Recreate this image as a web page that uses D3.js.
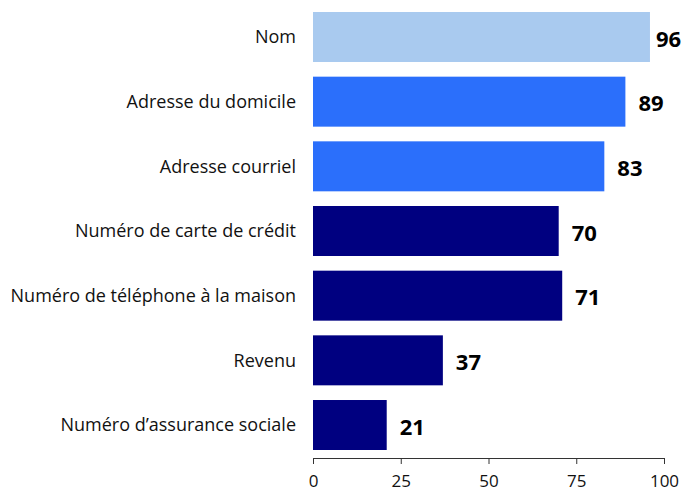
<!DOCTYPE html>
<html>
<head>
<meta charset="utf-8">
<script src="https://cdn.jsdelivr.net/npm/d3@7"></script>
<style>
    body { margin: 0; background: #fff; }
    text { font-family: "Open Sans", "Noto Sans", sans-serif; }
    .cat-label { font-size: 18px; fill: #111; }
    .value-label { font-size: 22px; font-weight: bold; fill: #000; }
    .x-axis text { font-size: 17px; fill: #111; }
    .x-axis path, .x-axis line { stroke: #333; }
</style>
</head>
<body>
<div id="chart"></div>
<script>
// DATA
const categories = [
    "Nom",
    "Adresse du domicile",
    "Adresse courriel",
    "Numéro de carte de crédit",
    "Numéro de téléphone à la maison",
    "Revenu",
    "Numéro d’assurance sociale"
];
const values = [96, 89, 83, 70, 71, 37, 21];
const groups = ["light", "mid", "mid", "dark", "dark", "dark", "dark"];
const tickValues = [0, 25, 50, 75, 100];

// VARIABLES
const width = 684;
const height = 496;
const margin = {top: 12, right: 20, bottom: 46, left: 313};
const colors = {light: "#a9caef", mid: "#2b6ffb", dark: "#000080"};

const data = categories.map((c, i) => ({name: c, value: values[i], group: groups[i]}));

const svg = d3.select("#chart")
    .append("svg")
    .attr("width", width)
    .attr("height", height);

const xScale = d3.scaleLinear()
    .domain([0, 100])
    .range([margin.left, width - margin.right]);

const yScale = d3.scaleBand()
    .domain(categories)
    .range([margin.top, height - margin.bottom])
    .paddingInner(0.227)
    .paddingOuter(0);

// bars
svg.append("g")
    .selectAll("rect")
    .data(data)
    .join("rect")
    .attr("x", xScale(0))
    .attr("y", d => yScale(d.name))
    .attr("width", d => xScale(d.value) - xScale(0))
    .attr("height", yScale.bandwidth())
    .attr("fill", d => colors[d.group]);

// category labels
svg.append("g")
    .selectAll("text")
    .data(data)
    .join("text")
    .classed("cat-label", true)
    .attr("x", margin.left - 17)
    .attr("y", d => yScale(d.name) + yScale.bandwidth() / 2)
    .attr("dy", "0.35em")
    .attr("text-anchor", "end")
    .text(d => d.name);

// value labels (the one near the edge gets pulled in)
svg.append("g")
    .selectAll("text")
    .data(data)
    .join("text")
    .classed("value-label", true)
    .attr("x", d => Math.min(xScale(d.value) + 13, width - 28))
    .attr("y", d => yScale(d.name) + yScale.bandwidth() / 2 + 2)
    .attr("dy", "0.35em")
    .text(d => d.value);

// axis
const xAxis = d3.axisBottom(xScale)
    .tickValues(tickValues)
    .tickSize(6)
    .tickSizeOuter(0)
    .tickPadding(11);

svg.append("g")
    .classed("x-axis", true)
    .attr("transform", `translate(0, ${height - margin.bottom + 8})`)
    .call(xAxis)
    .call(g => g.selectAll("text").attr("font-family", null).attr("font-size", null));
</script>
</body>
</html>
